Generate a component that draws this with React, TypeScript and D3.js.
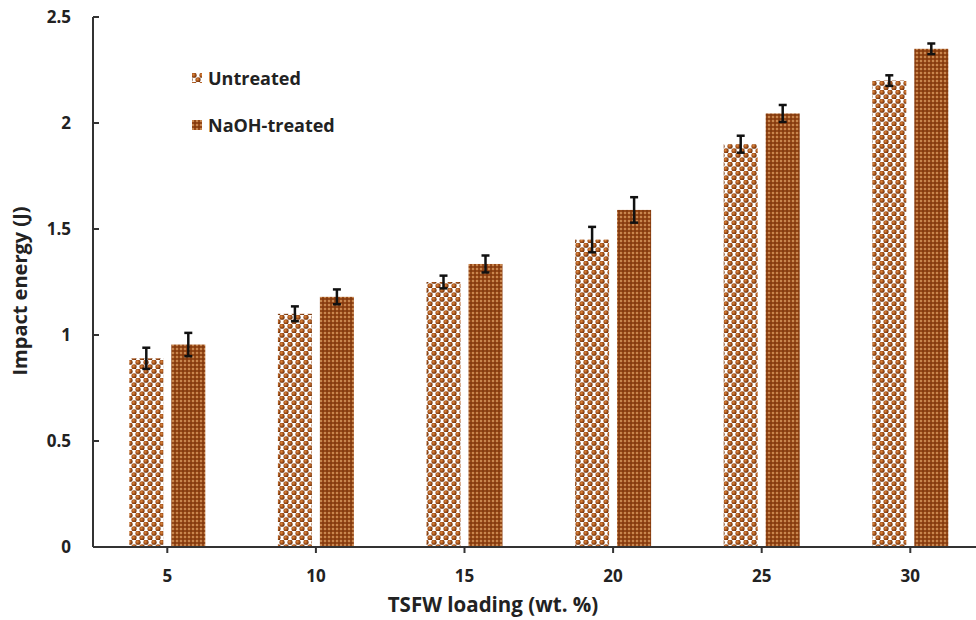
import React from "react";
import * as d3 from "d3";

const categories = ["5", "10", "15", "20", "25", "30"];
const untreated = [0.89, 1.1, 1.25, 1.45, 1.9, 2.2];
const untreatedErr = [0.05, 0.035, 0.03, 0.06, 0.04, 0.025];
const naoh = [0.955, 1.18, 1.335, 1.59, 2.045, 2.35];
const naohErr = [0.055, 0.035, 0.04, 0.06, 0.04, 0.025];
const yTicks = [0, 0.5, 1, 1.5, 2, 2.5];
const seriesNames = ["Untreated", "NaOH-treated"];

const W = 976;
const H = 620;
const left = 93;
const bottom = 547;
const top = 17;

export default function App() {
  const x = d3.scaleBand<string>().domain(categories).range([left, left + 6 * 148.6]).padding(0);
  const y = d3.scaleLinear().domain([0, 2.5]).range([bottom, top]);
  const barW = 34;
  const font = "'Open Sans', Lato, sans-serif";
  const series = [
    { vals: untreated, errs: untreatedErr, off: -38, fill: "url(#pU)" },
    { vals: naoh, errs: naohErr, off: 4, fill: "url(#pN)" },
  ];
  return (
    <svg width={W} height={H} style={{ position: "absolute", left: 0, top: 0, background: "#fff" }}>
      <defs>
        <radialGradient id="ball" cx="0.4" cy="0.4" r="0.6">
          <stop offset="0" stopColor="#dd8a40" />
          <stop offset="0.55" stopColor="#a8531a" />
          <stop offset="1" stopColor="#6a300a" />
        </radialGradient>
        <pattern id="pU" width="8" height="9" patternUnits="userSpaceOnUse">
          <rect width="8" height="9" fill="#fff" />
          <circle cx="2" cy="2.25" r="2.6" fill="url(#ball)" />
          <circle cx="6" cy="6.75" r="2.6" fill="url(#ball)" />
          <circle cx="10" cy="2.25" r="2.6" fill="url(#ball)" />
          <circle cx="-2" cy="6.75" r="2.6" fill="url(#ball)" />
        </pattern>
        <pattern id="pN" width="4" height="4" patternUnits="userSpaceOnUse">
          <rect width="4" height="4" fill="#964818" />
          <circle cx="1" cy="1" r="0.9" fill="#e0a468" />
          <circle cx="3" cy="3" r="0.9" fill="#7a360c" />
        </pattern>
      </defs>
      {series.map((s, si) =>
        categories.map((c, i) => {
          const cx = (x(c) as number) + x.bandwidth() / 2 + s.off;
          return (
            <rect key={si + "-" + c} x={cx} y={y(s.vals[i])} width={barW} height={bottom - y(s.vals[i])} fill={s.fill} />
          );
        })
      )}
      {series.map((s, si) =>
        categories.map((c, i) => {
          const mx = (x(c) as number) + x.bandwidth() / 2 + s.off + barW / 2;
          const y1 = y(s.vals[i] + s.errs[i]);
          const y2 = y(s.vals[i] - s.errs[i]);
          return (
            <g key={"e" + si + "-" + c} stroke="#111" strokeWidth={2.5}>
              <line x1={mx} x2={mx} y1={y1} y2={y2} />
              <line x1={mx - 4} x2={mx + 4} y1={y1} y2={y1} />
              <line x1={mx - 4} x2={mx + 4} y1={y2} y2={y2} />
            </g>
          );
        })
      )}
      <line x1={left} x2={left} y1={top} y2={bottom} stroke="#333" strokeWidth={2} />
      {yTicks.map((t) => (
        <g key={t}>
          <line x1={left} x2={left + 6} y1={y(t)} y2={y(t)} stroke="#333" strokeWidth={2} />
          <text x={left - 22} y={y(t) + 6} textAnchor="end" fontFamily={font} fontWeight="bold" fontSize={17} fill="#222">
            {t}
          </text>
        </g>
      ))}
      <line x1={left} x2={W} y1={bottom} y2={bottom} stroke="#333" strokeWidth={2} />
      {categories.map((c) => {
        const cx = (x(c) as number) + x.bandwidth() / 2;
        return (
          <g key={c}>
            <line x1={cx} x2={cx} y1={bottom} y2={bottom + 6} stroke="#333" strokeWidth={2} />
            <text x={cx} y={bottom + 35} textAnchor="middle" fontFamily={font} fontWeight="bold" fontSize={17} fill="#222">
              {c}
            </text>
          </g>
        );
      })}
      <text x={493} y={612} textAnchor="middle" fontFamily={font} fontWeight="bold" fontSize={20.5} fill="#222">
        TSFW loading (wt. %)
      </text>
      <text transform={`translate(27,291) rotate(-90)`} textAnchor="middle" fontFamily={font} fontWeight="bold" fontSize={20} fill="#222">
        Impact energy (J)
      </text>
      {seriesNames.map((n, i) => (
        <g key={n} transform={`translate(192,${73 + i * 47})`}>
          <rect x={0} y={0} width={10} height={10} fill={i === 0 ? "url(#pU)" : "url(#pN)"} />
          <text x={16} y={12} fontFamily={font} fontWeight="bold" fontSize={18} fill="#222">
            {n}
          </text>
        </g>
      ))}
    </svg>
  );
}
